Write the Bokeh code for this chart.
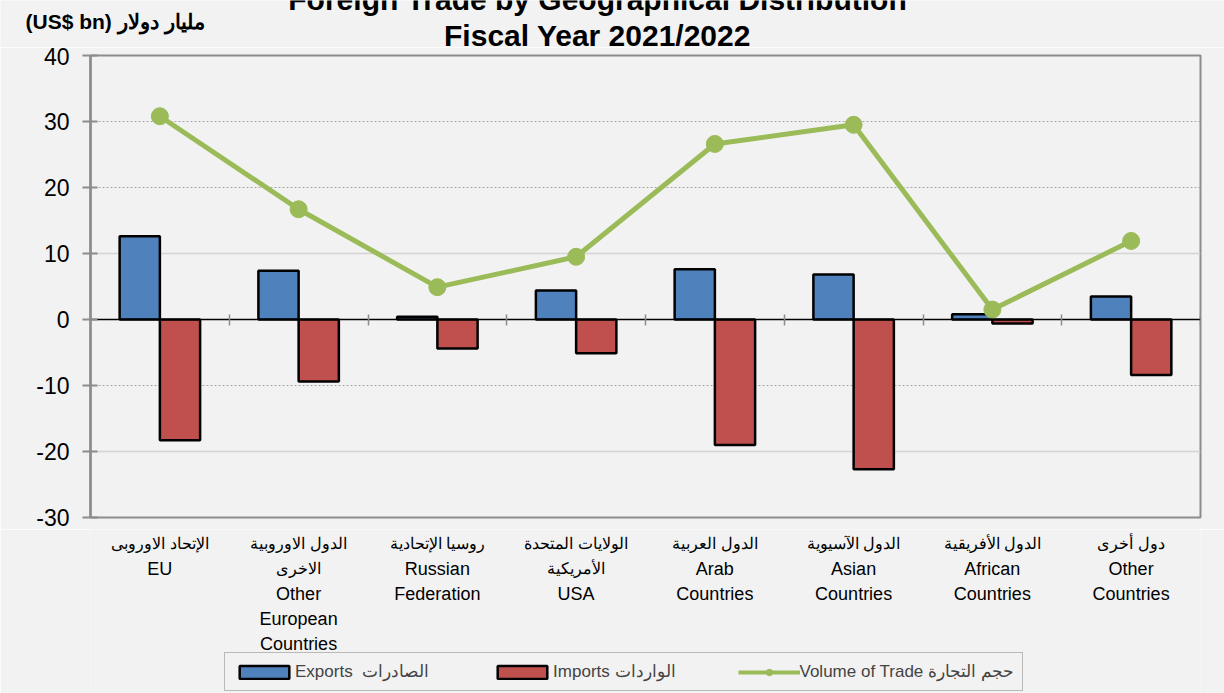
from bokeh.plotting import figure
from bokeh.layouts import column
from bokeh.models import (ColumnDataSource, Range1d, FixedTicker, Grid, Label,
                          LabelSet, Legend, LegendItem)
from bokeh.core.properties import value
from bokeh.transform import dodge
from bokeh.embed import file_html
from bokeh.resources import INLINE

# ---------------- data ----------------
categories_ar = [
    "الإتحاد الاوروبى",
    "الدول الاوروبية\nالاخرى",
    "روسيا الإتحادية",
    "الولايات المتحدة\nالأمريكية",
    "الدول العربية",
    "الدول الآسيوية",
    "الدول الأفريقية",
    "دول أخرى",
]
categories_en = [
    "EU",
    "Other\nEuropean\nCountries",
    "Russian\nFederation",
    "USA",
    "Arab\nCountries",
    "Asian\nCountries",
    "African\nCountries",
    "Other\nCountries",
]
exports = [12.6, 7.4, 0.4, 4.4, 7.6, 6.8, 0.8, 3.5]
imports = [-18.3, -9.4, -4.4, -5.1, -19.0, -22.7, -0.6, -8.4]
volume = [30.8, 16.7, 4.9, 9.5, 26.6, 29.5, 1.5, 11.9]
y_ticks = [-30, -20, -10, 0, 10, 20, 30, 40]
title_lines = ["Foreign Trade by Geographical Distribution", "Fiscal Year 2021/2022"]
unit_label = "(US$ bn) مليار دولار"
legend_labels = ["Exports  الصادرات", "Imports الواردات", "Volume of Trade حجم التجارة"]

# ---------------- layout constants (page pixels) ----------------
W = 1224
HEAD_H = 47          # header strip (titles)
FL, FR, FT, FB = 90, 1200, 55, 517   # plot frame edges
FOOT_TOP = 529
FOOT_H = 693 - FOOT_TOP
MAIN_H = FOOT_TOP - HEAD_H
Y0, Y1 = -30, 40
N = len(categories_en)
BAR_W = 0.29
FONT = "Liberation Sans"
BG = "#f2f2f2"
BLUE, RED, GREEN = "#4f81bd", "#c0504d", "#9bbb59"

xs = [i + 0.5 for i in range(N)]
src = ColumnDataSource(dict(x=xs, exports=exports, imports=imports, volume=volume))
x_range = Range1d(0, N)

# ---------------- header (titles), in page-pixel units ----------------
header = figure(width=W, height=HEAD_H, output_backend="svg", toolbar_location=None,
                title=None, x_range=Range1d(0, W), y_range=Range1d(HEAD_H, 0),
                x_axis_type=None, y_axis_type=None,
                min_border_left=0, min_border_right=0,
                min_border_top=0, min_border_bottom=0,
                outline_line_color=None, background_fill_color=BG, border_fill_color=BG)
if "frame_align" in header.properties():
    header.frame_align = False
title_style = dict(text_align="center", text_baseline="middle", text_font=FONT,
                   text_font_style="bold", text_font_size="30px", text_color="black")
header.add_layout(Label(x=597, y=-1, text=title_lines[0], **title_style))
header.add_layout(Label(x=597, y=34.5, text=title_lines[1], **title_style))
header.add_layout(Label(x=25, y=21, text=unit_label, text_align="left",
                        text_baseline="middle", text_font=FONT, text_font_style="bold",
                        text_font_size="21px", text_color="black"))

# ---------------- main chart ----------------
p = figure(width=W, height=MAIN_H, output_backend="svg", toolbar_location=None,
           title=None, x_range=x_range, y_range=Range1d(Y0, Y1),
           min_border_left=FL, min_border_right=W - FR,
           min_border_top=FT - HEAD_H, min_border_bottom=FOOT_TOP - FB,
           background_fill_color=BG, border_fill_color=BG,
           outline_line_color="#8c8c8c", outline_line_width=2)

p.xgrid.visible = False
p.ygrid[0].ticker = FixedTicker(ticks=[30, 20, -10])
p.ygrid[0].grid_line_color = "#a6a6a6"
p.ygrid[0].grid_line_dash = "2 2"
p.ygrid[0].grid_line_width = 1
p.add_layout(Grid(dimension=1, ticker=FixedTicker(ticks=[10, -20]),
                  grid_line_color="#d4d4d4", grid_line_width=1.5))

ya = p.yaxis[0]
ya.ticker = FixedTicker(ticks=y_ticks)
ya.major_label_overrides = {t: str(t) for t in y_ticks}
ya.axis_line_color = "#8c8c8c"
ya.axis_line_width = 2.5
ya.major_tick_line_color = "#8c8c8c"
ya.major_tick_line_width = 2
ya.major_tick_in = 7
ya.major_tick_out = 8
ya.minor_tick_line_color = None
ya.major_label_text_font = FONT
ya.major_label_text_font_size = "23px"
ya.major_label_text_color = "black"
ya.major_label_standoff = 13

# x axis drawn on the zero line, ticks at category boundaries
xa = p.xaxis[0]
xa.fixed_location = 0
xa.ticker = FixedTicker(ticks=list(range(1, N + 1)))
xa.major_label_overrides = {k: "" for k in range(1, N + 1)}
xa.major_label_standoff = 0
xa.axis_line_color = "black"
xa.axis_line_width = 1.5
xa.major_tick_line_color = "#8c8c8c"
xa.major_tick_line_width = 1.5
xa.major_tick_in = 5
xa.major_tick_out = 6
xa.minor_tick_line_color = None

bar_style = dict(line_color="black", line_width=2.5)
p.vbar(x=dodge("x", -BAR_W / 2), top="exports", bottom=0, width=BAR_W,
       source=src, fill_color=BLUE, **bar_style)
p.vbar(x=dodge("x", BAR_W / 2), top=0, bottom="imports", width=BAR_W,
       source=src, fill_color=RED, **bar_style)
p.line(x="x", y="volume", source=src, line_color=GREEN, line_width=5)
p.scatter(x="x", y="volume", source=src, size=17, marker="circle",
          fill_color=GREEN, line_color=GREEN)

# ---------------- footer (category labels + legend) ----------------
footer = figure(width=W, height=FOOT_H, output_backend="svg", toolbar_location=None,
                title=None, x_range=x_range, y_range=Range1d(FOOT_H, 0),
                x_axis_type=None, y_axis_type=None,
                min_border_left=FL, min_border_right=W - FR,
                min_border_top=0, min_border_bottom=0,
                outline_line_color=None, background_fill_color=BG, border_fill_color=BG)

LABEL_TOP, LINE = 543 - FOOT_TOP, 25
ar_rows = dict(x=[], y=[], text=[])
en_rows = dict(x=[], y=[], text=[])
for i, (ar, en) in enumerate(zip(categories_ar, categories_en)):
    ar_lines = ar.split("\n")
    en_lines = en.split("\n")
    for k, line in enumerate(ar_lines):
        ar_rows["x"].append(i + 0.5)
        ar_rows["y"].append(LABEL_TOP + k * LINE)
        ar_rows["text"].append(line)
    for k, line in enumerate(en_lines):
        en_rows["x"].append(i + 0.5)
        en_rows["y"].append(LABEL_TOP + (len(ar_lines) + k) * LINE)
        en_rows["text"].append(line)

footer.add_layout(LabelSet(x="x", y="y", text="text", source=ColumnDataSource(ar_rows),
                           text_align="center", text_baseline="middle",
                           text_font=value(FONT), text_font_size="16px",
                           text_color="black"))
footer.add_layout(LabelSet(x="x", y="y", text="text", source=ColumnDataSource(en_rows),
                           text_align="center", text_baseline="middle",
                           text_font=value(FONT), text_font_size="18px",
                           text_color="black"))

# legend-only copies of the series (not painted: renderers hidden)
l_exp = footer.vbar(x=dodge("x", -BAR_W / 2), top="exports", bottom=0, width=BAR_W,
                    source=src, fill_color=BLUE, visible=False, **bar_style)
l_imp = footer.vbar(x=dodge("x", BAR_W / 2), top=0, bottom="imports", width=BAR_W,
                    source=src, fill_color=RED, visible=False, **bar_style)
l_line = footer.line(x="x", y="volume", source=src, line_color=GREEN, line_width=4,
                     visible=False)
l_pts = footer.scatter(x="x", y="volume", source=src, marker="circle", size=10,
                       fill_color=GREEN, line_color=GREEN, visible=False)

legend = Legend(items=[LegendItem(label=legend_labels[0], renderers=[l_exp]),
                       LegendItem(label=legend_labels[1], renderers=[l_imp]),
                       LegendItem(label=legend_labels[2], renderers=[l_line, l_pts])],
                orientation="horizontal", location=(134, 2),
                margin=0, padding=8, spacing=62,
                glyph_width=62, glyph_height=16, label_height=20, label_standoff=0,
                label_text_font=FONT, label_text_font_size="17px",
                border_line_color="#7f7f7f", border_line_width=1,
                background_fill_color=BG, background_fill_alpha=1,
                inactive_fill_alpha=0)
footer.add_layout(legend)

layout = column(header, p, footer, spacing=0)
open("out.html", "w").write(file_html(layout, INLINE))
